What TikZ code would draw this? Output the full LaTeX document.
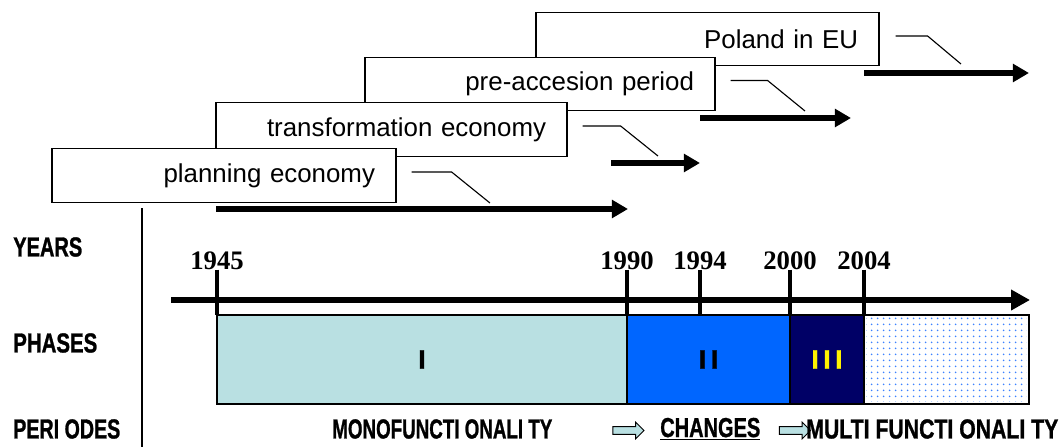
\documentclass[tikz,border=0pt]{standalone}
\usepackage{fontspec}
\setmainfont{Liberation Sans}
\newfontfamily\yearfont{Liberation Serif}
\newfontfamily\heavyfont{Liberation Sans Bold}[FakeBold=1.2]
\usetikzlibrary{arrows.meta,shapes.arrows,patterns.meta}
\definecolor{phaseone}{RGB}{185,224,226}
\definecolor{phasetwo}{RGB}{0,102,255}
\definecolor{phasethree}{RGB}{0,0,102}
\definecolor{dotblue}{RGB}{60,130,255}
\newcommand{\cram}[2]{\resizebox{#1}{\height}{#2}}
\begin{document}
\begin{tikzpicture}[x=0.025cm,y=-0.025cm,
    ecobox/.style={draw, fill=white, line width=0.8pt, minimum height=1.34cm,
      inner xsep=0.525cm, inner ysep=0pt, align=right,
      font=\fontsize{18.4}{20}\selectfont},
    callout/.style={line width=0.8pt},
    spanarrow/.style={line width=3.6pt, -{Triangle[length=11.5pt,width=12.5pt]}},
    tick/.style={line width=3.2pt},
    yearlabel/.style={anchor=base, inner sep=0pt, font=\yearfont\bfseries\fontsize{19}{20}\selectfont},
    rowlabel/.style={anchor=west, inner sep=0pt, font=\heavyfont\fontsize{19.5}{20}\selectfont},
    phasebox/.style={draw, line width=0.9pt, minimum height=2.225cm, inner sep=0pt,
      font=\heavyfont\fontsize{19}{20}\selectfont},
    periodtext/.style={anchor=west, inner sep=0pt, font=\heavyfont\fontsize{19.5}{20}\selectfont},
    periodarrow/.style={shape=single arrow, draw, line width=0.7pt, fill=phaseone,
      minimum height=0.775cm, inner xsep=0pt, inner ysep=0.085cm, single arrow head extend=0.11cm}]
  \useasboundingbox (0,0) rectangle (1060,447);

  % Boxes for the economy stages (back to front)
  \node[ecobox, text width=7.525cm] (eu) at (707.5,39) {Poland in EU};
  \node[ecobox, text width=7.7cm] (pre) at (540,84) {pre-accesion period};
  \node[ecobox, text width=7.725cm] (trans) at (391.5,129.5) {transformation economy};
  \node[ecobox, text width=7.55cm] (plan) at (224,175.5) {planning economy};

  % Spans of the stages
  \coordinate (planS) at (216,209);
  \coordinate (planE) at (628,209);
  \coordinate (transS) at (611,163);
  \coordinate (transE) at (700,163);
  \coordinate (preS) at (700,118);
  \coordinate (preE) at (851,118);
  \coordinate (euS) at (864,73);
  \coordinate (euE) at (1029,73);
  \draw[spanarrow] (planS) -- (planE);
  \draw[spanarrow] (transS) -- (transE);
  \draw[spanarrow] (preS) -- (preE);
  \draw[spanarrow] (euS) -- (euE);

  % Callouts from boxes to spans
  \draw[callout] ([xshift=0.375cm,yshift=0.0875cm]plan.east) -- ++(40,0) -- ([xshift=-3.45cm,yshift=0.15cm]planE);
  \draw[callout] ([xshift=0.375cm,yshift=0.0875cm]trans.east) -- ++(38,0) -- ([xshift=-1.05cm,yshift=0.175cm]transE);
  \draw[callout] ([xshift=0.375cm,yshift=0.0875cm]pre.east) -- ++(37,0) -- ([xshift=-1.15cm,yshift=0.175cm]preE);
  \draw[callout] ([xshift=0.4cm,yshift=0.075cm]eu.east) -- ++(32,0) -- ([xshift=-1.7cm,yshift=0.225cm]euE);

  % Separator
  \coordinate (sepT) at (142,208);
  \coordinate (sepB) at (142,447);
  \draw[line width=1pt] (sepT) -- (sepB);

  % Row labels
  \node[rowlabel] (years) at (13,247) {\cram{1.725cm}{YEARS}};
  \node[rowlabel] (phases) at (13,343) {\cram{2.1cm}{PHASES}};
  \node[rowlabel] (periods) at (13,429) {\cram{2.675cm}{PERI ODES}};

  % Phases
  \node[phasebox, fill=phaseone, minimum width=10.25cm] (ph1) at (422,359.5) {I};
  \node[phasebox, fill=phasetwo, minimum width=4.075cm] (ph2) at (708.5,359.5) {I\,I};
  \node[phasebox, fill=phasethree, text=yellow, minimum width=1.85cm] (ph3) at (827,359.5) {I\,I\,I};
  \node[phasebox, minimum width=4.125cm] (ph4) at (946.5,359.5) {};
  \fill[pattern={Dots[distance=4pt,radius=0.7pt]}, pattern color=dotblue]
    ([shift={(2pt,-2pt)}]ph4.north west) rectangle ([shift={(-2pt,2pt)}]ph4.south east);

  % Time axis
  \coordinate (axisS) at (171,300);
  \coordinate (axisE) at (1030,300);
  \draw[line width=3.9pt, -{Triangle[length=13.5pt,width=14pt]}] (axisS) -- (axisE);

  % Years and ticks
  \foreach \yr/\xx in {1945/217,1990/627,1994/700,2000/790,2004/864}{
    \node[yearlabel] (y\yr) at (\xx,269) {\yr};
    \draw[tick] (y\yr.south) -- (\xx,315);
  }

  % Periods
  \node[periodtext] (mono) at (332,429) {\cram{5.5cm}{MONOFUNCTI ONALI TY}};
  \node[periodarrow] (arrA) at (626.5,430.5) {};
  \node[periodtext] (chg) at (660,429) {\cram{2.5cm}{\underline{CHANGES}}};
  \node[periodarrow] (arrB) at (793,430.5) {};
  \node[periodtext] (multi) at (806,429) {\cram{6.3cm}{MULTI FUNCTI ONALI TY}};
\end{tikzpicture}
\end{document}
